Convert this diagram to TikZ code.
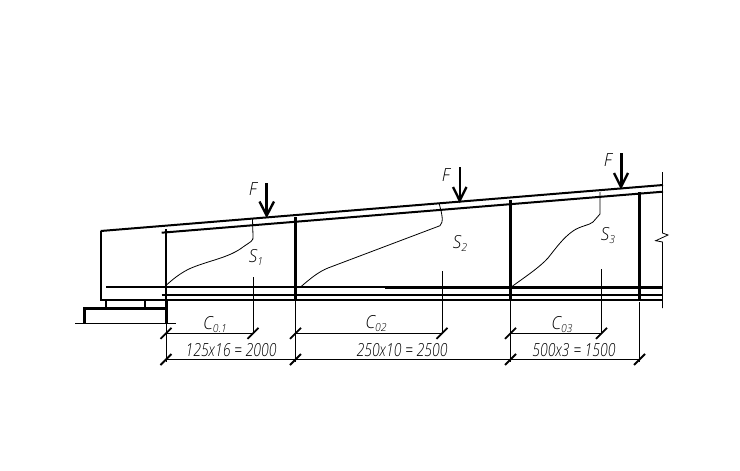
\documentclass[tikz,border=0pt]{standalone}
\usepackage{fontspec}
\setsansfont{Open Sans Light}[ItalicFont={Open Sans Light Italic}]
\usetikzlibrary{calc}
\tikzset{
  chord/.style={line width=2pt,black},
  rib/.style={line width=3pt,black},
  thinl/.style={line width=1pt,black},
  hair/.style={line width=0.8pt,black},
  tick/.style={line width=1.8pt,black},
  load/.style={line width=2.4pt,black,line join=miter},
  lab/.style={inner sep=0pt,font=\sffamily\itshape\fontsize{18}{20}\selectfont,xscale=0.95},
  dimlab/.style={inner sep=0pt,font=\sffamily\itshape\fontsize{18}{20}\selectfont,xscale=0.78}
}
\newcommand{\dimtick}[1]{\draw[tick] ($(#1)+(-5.5,5.5)$) -- ($(#1)+(5.5,-5.5)$);}
\newcommand{\subl}[1]{\raisebox{-3pt}{\fontsize{11}{12}\selectfont #1}}
\begin{document}
\begin{tikzpicture}[x=1pt,y=-1pt]
\useasboundingbox (0,0) rectangle (740,471);
% coordinates
\coordinate (A) at (100.7,231);
\coordinate (TE) at (663,185);
\coordinate (A2) at (161.7,232.7);
\coordinate (TE2) at (663,191.7);
% chords
\draw[chord] (A) -- (TE);
\draw[chord] (A2) -- (TE2);
\draw[chord] (A) -- (100.7,300) -- (663,300);
\draw[chord] (106,287) -- (663,287);
\draw[line width=3pt] (385,287.3) -- (663,287.3);
\draw[chord] (161.7,295) -- (663,295);
% support
\draw[chord] (106,300) -- (106,307.5);
\draw[chord] (145,300) -- (145,307.5);
\draw[line width=2.6pt] (84.5,323) -- (84.5,308.5) -- (166,308.5);
\draw[thinl] (75,323.5) -- (176,323.5);
% ribs
\draw[line width=2pt] (166,229) -- (166,300);
\draw[line width=3pt] (166,300) -- (166,323);
\draw[rib] (295.5,217) -- (295.5,300);
\draw[rib] (510.5,200) -- (510.5,300);
\draw[rib] (639.5,192) -- (639.5,300);
% extension lines
\draw[hair] (166,323) -- (166,362);
\draw[hair] (295.5,300) -- (295.5,362);
\draw[hair] (510.5,300) -- (510.5,362);
\draw[hair] (639.5,302) -- (639.5,362);
\draw[hair] (253,277) -- (253,333);
\draw[hair] (442,271) -- (442,333);
\draw[hair] (601.5,269) -- (601.5,333);
% dimension lines
\coordinate (d1a) at (166,333.3);   \coordinate (d1b) at (253,333.3);
\coordinate (d2a) at (295.5,333.3); \coordinate (d2b) at (442,333.3);
\coordinate (d3a) at (510.5,333.3); \coordinate (d3b) at (601.5,333.3);
\coordinate (e1) at (166,359.5);  \coordinate (e2) at (295.5,359.5);
\coordinate (e3) at (510.5,359.5); \coordinate (e4) at (639.5,359.5);
\draw[hair] (d1a) -- (d1b);
\draw[hair] (d2a) -- (d2b);
\draw[hair] (d3a) -- (d3b);
\draw[hair] (e1) -- (e4);
\foreach \p in {d1a,d1b,d2a,d2b,d3a,d3b,e1,e2,e3,e4} {\dimtick{\p}}
% loads
\draw[line width=3pt] (266.7,183) -- (266.7,214);
\draw[load] (259.5,201.5) -- (266.7,215.5) -- (274,201.5);
\draw[line width=1.6pt] (459.7,167) -- (459.7,200);
\draw[load] (453,187) -- (459.7,200.5) -- (466.5,187);
\draw[line width=3pt] (621,153) -- (621,185);
\draw[load] (614,173) -- (621,187) -- (628,173);
% curves
\draw[hair] (166,285.5) .. controls (175,277) and (185,270) .. (195,266.5)
  .. controls (212,260) and (230,257) .. (243,247)
  .. controls (250,242) and (254,241) .. (253,236) -- (252.5,219);
\draw[hair] (301.7,286) .. controls (310,279) and (318,272) .. (328,268)
  -- (440,225.7) .. controls (444,222) and (442,214) .. (439,203);
\draw[hair] (511.7,286.7) .. controls (525,277) and (540,267) .. (548,258)
  .. controls (556,248) and (563,238) .. (573,231)
  .. controls (580,226) and (590,225) .. (593,222) -- (600,214) -- (600,192);
% break line
\draw[hair] (662.5,172) -- (662.5,233) -- (668,235) -- (655.7,240.7) -- (662.5,242) -- (662.5,308);
% labels
\node[lab] (f1) at (253,189.5) {F};
\node[lab] (f2) at (446,175) {F};
\node[lab] (f3) at (608,160.5) {F};
\node[lab] (s1) at (256,257.5) {S\subl{1}};
\node[lab] (s2) at (460,243) {S\subl{2}};
\node[lab] (s3) at (608,235.5) {S\subl{3}};
\node[lab] (c1) at (215,324.5) {C\subl{0.1}};
\node[lab] (c2) at (376,324) {C\subl{02}};
\node[lab] (c3) at (562,324.5) {C\subl{03}};
\node[dimlab] (t1) at (231,350) {125x16 = 2000};
\node[dimlab] (t2) at (402,350) {250x10 = 2500};
\node[dimlab] (t3) at (574,350) {500x3 = 1500};
\end{tikzpicture}
\end{document}
